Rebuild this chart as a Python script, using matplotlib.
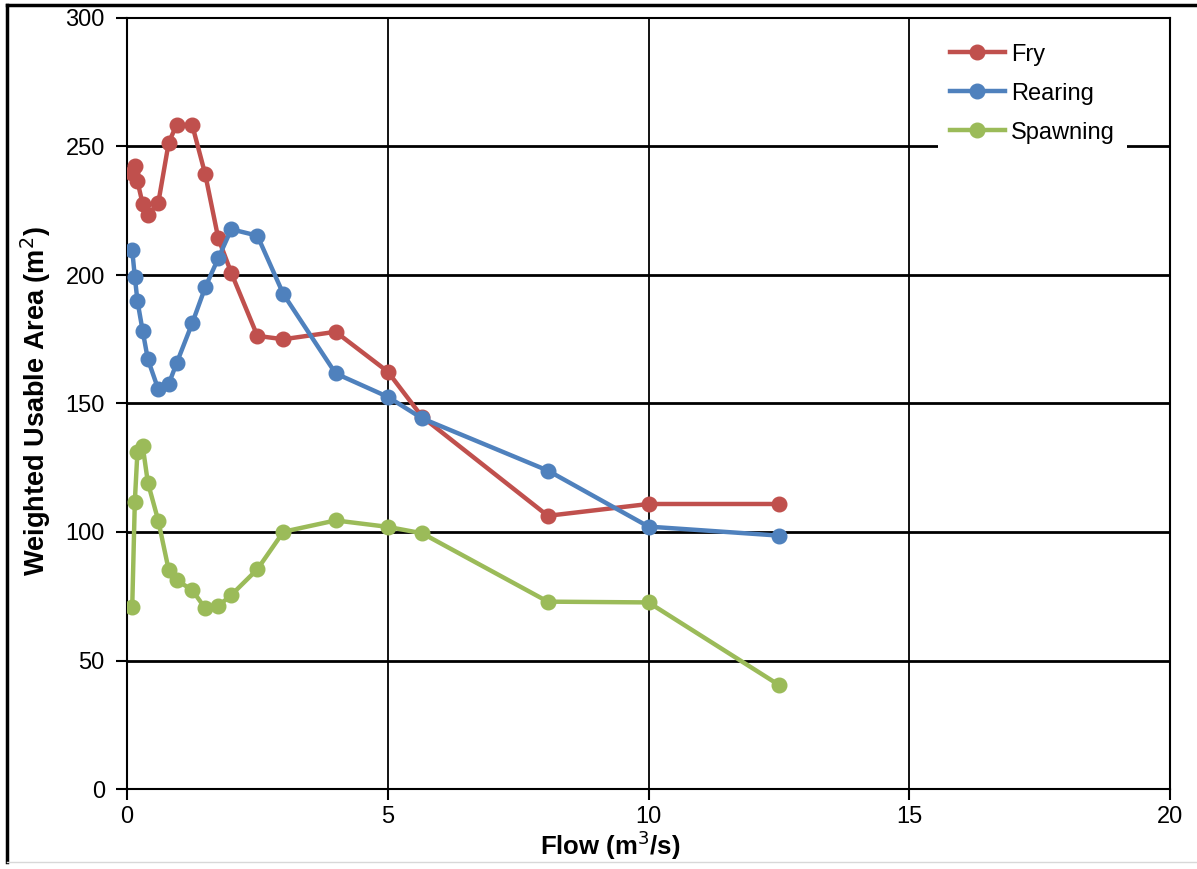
import matplotlib
matplotlib.use("Agg")
import matplotlib.pyplot as plt
from matplotlib.lines import Line2D

plt.rcParams['font.family'] = ['Liberation Sans', 'DejaVu Sans']

flow = [0.1, 0.15, 0.2, 0.3, 0.4, 0.6, 0.8, 0.95, 1.25, 1.5, 1.75, 2.0,
        2.5, 3.0, 4.0, 5.0, 5.66, 8.07, 10.0, 12.5]
fry = [239.5, 242.5, 236.5, 227.7, 223.3, 228.1, 251.5, 258.4, 258.4, 239.2,
       214.3, 200.8, 176.3, 175.0, 177.9, 162.4, 144.8, 106.3, 110.9, 110.9]
rearing = [209.7, 199.3, 189.9, 178.3, 167.2, 155.5, 157.6, 165.6, 181.2, 195.2,
           206.5, 217.8, 215.3, 192.5, 161.7, 152.6, 144.2, 123.9, 102.1, 98.6]
spawning = [70.7, 111.8, 131.2, 133.6, 119.2, 104.4, 85.2, 81.3, 77.4, 70.3,
            71.2, 75.5, 85.5, 100.1, 104.5, 102.0, 99.5, 72.9, 72.6, 40.5]

series_names = ['Fry', 'Rearing', 'Spawning']
colors = ['#C0504D', '#4F81BD', '#9BBB59']
xticks = [0, 5, 10, 15, 20]
yticks = [0, 50, 100, 150, 200, 250, 300]

W, H = 1197, 869
fig = plt.figure(figsize=(W/100, H/100), dpi=100)
ax = fig.add_axes([127/W, 1-789/H, (1170-127)/W, (789-18)/H])

for name, vals, c in zip(series_names, [fry, rearing, spawning], colors):
    ax.plot(flow, vals, color=c, lw=3.2, marker='o', ms=10.5, label=name,
            solid_joinstyle='round', zorder=3)

ax.set_xlim(0, 20)
ax.set_ylim(0, 300)
ax.set_xticks(xticks)
ax.set_yticks(yticks)
for y in yticks[1:-1]:
    ax.axhline(y, color='black', lw=2.0, zorder=1)
for x in xticks[1:-1]:
    ax.axvline(x, color='black', lw=1.3, zorder=1)

for s in ax.spines.values():
    s.set_color('black')
    s.set_linewidth(1.5)
ax.tick_params(axis='both', direction='out', length=8, width=1.5, labelsize=17,
               colors='black')
ax.tick_params(axis='y', pad=8)
ax.tick_params(axis='x', pad=4)

ax.set_xlabel('Flow (m$^3$/s)', fontsize=18.5, fontweight='bold')
ax.xaxis.set_label_coords((610-127)/(1170-127), -(829-789)/(789-18))
ax.set_ylabel('Weighted Usable Area (m$^2$)', fontsize=19.5, fontweight='bold')
ax.yaxis.set_label_coords(-(127-53)/(1170-127), (789-401)/(789-18))

leg = ax.legend(loc='upper left', bbox_to_anchor=((926-127)/(1170-127), (789-20)/(789-18)),
                frameon=True, fancybox=False, edgecolor='none', facecolor='white',
                framealpha=1, fontsize=17, handlelength=2.35, labelspacing=0.72,
                borderpad=0.5, handletextpad=0.25)
leg.set_zorder(5)

# outer frame of the figure
fig.add_artist(Line2D([7/W, 7/W], [1-862/H, 1-5/H], transform=fig.transFigure,
                      color='black', lw=2.5))
fig.add_artist(Line2D([7/W, 1.0], [1-5/H, 1-5/H], transform=fig.transFigure,
                      color='black', lw=2.5))
fig.add_artist(Line2D([7/W, 1.0], [1-862/H, 1-862/H], transform=fig.transFigure,
                      color='#d8d8d8', lw=1.0))

fig.savefig('out.png', dpi=100)
